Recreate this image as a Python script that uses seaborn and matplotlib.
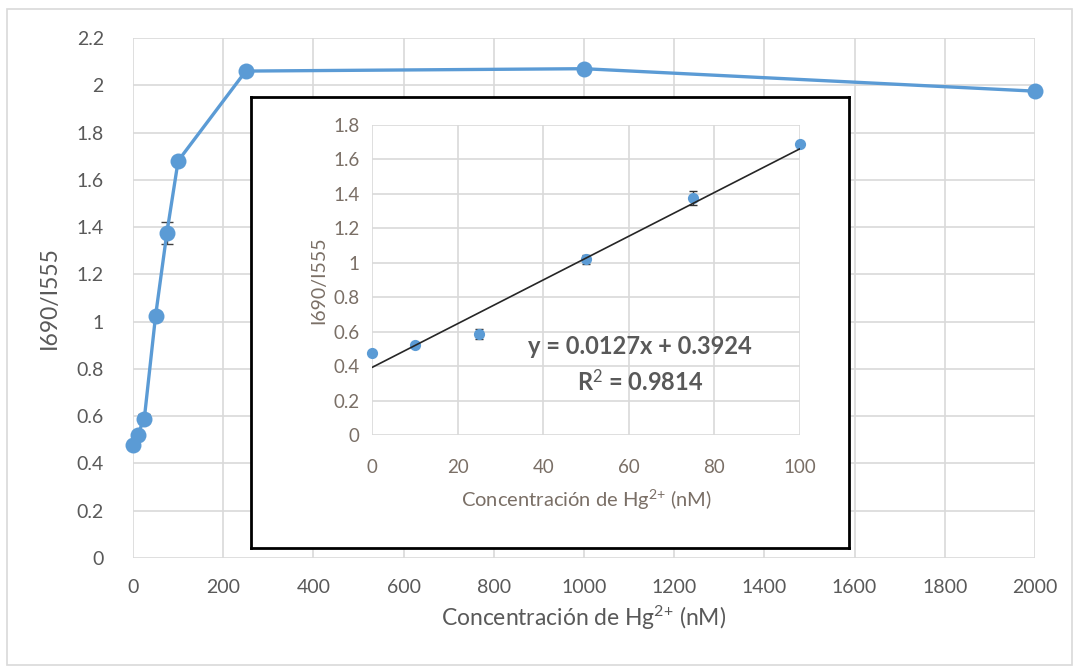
import matplotlib
matplotlib.use("Agg")
import matplotlib.pyplot as plt
import seaborn as sns
import pandas as pd
from matplotlib.patches import Rectangle

# datos de la curva completa
conc_main = [0, 10, 25, 50, 75, 100, 250, 1000, 2000]
ratio_main = [0.48, 0.52, 0.59, 1.025, 1.375, 1.68, 2.06, 2.07, 1.975]
err_main = [0.0, 0.0, 0.02, 0.015, 0.045, 0.0, 0.0, 0.012, 0.0]

# datos del recuadro (zona lineal)
conc_ins = [0, 10, 25, 50, 75, 100]
ratio_ins = [0.475, 0.52, 0.585, 1.02, 1.375, 1.69]
err_ins = [0.0, 0.0, 0.03, 0.025, 0.04, 0.0]

slope = 0.0127
intercept = 0.3924
r2 = 0.9814

main_ticks_x = [0, 200, 400, 600, 800, 1000, 1200, 1400, 1600, 1800, 2000]
main_ticks_y = [0, 0.2, 0.4, 0.6, 0.8, 1, 1.2, 1.4, 1.6, 1.8, 2, 2.2]
ins_ticks_x = [0, 20, 40, 60, 80, 100]
ins_ticks_y = [0, 0.2, 0.4, 0.6, 0.8, 1, 1.2, 1.4, 1.6, 1.8]

BLUE = "#5B9BD5"
GRID = "#D9D9D9"
TXT = "#595959"
INS_TXT = "#7a6f66"
XLABEL = "Concentración de Hg$^{2{+}}$ (nM)"

sns.set_style("white")
plt.rcParams["font.family"] = ["Lato", "DejaVu Sans"]
plt.rcParams["mathtext.fontset"] = "custom"
plt.rcParams["mathtext.rm"] = "Lato"
plt.rcParams["mathtext.it"] = "Lato:italic"
plt.rcParams["mathtext.bf"] = "Lato:bold"


def fmt(v):
    return ("%g" % v)


fig = plt.figure(figsize=(10.79, 6.71), dpi=100)
fig.patches.append(Rectangle((0.0065, 0.009), 0.987, 0.977, transform=fig.transFigure,
                             fill=False, edgecolor=GRID, linewidth=1.2))

# --- gráfico principal ---
ax = fig.add_axes([0.1233, 0.1684, 0.8359, 0.775])
df_main = pd.DataFrame({"conc": conc_main, "ratio": ratio_main})
sns.lineplot(data=df_main, x="conc", y="ratio", ax=ax, color=BLUE, linewidth=2.4,
             marker="o", markersize=11.5, markeredgewidth=0, zorder=3, clip_on=False)
ax.errorbar(conc_main, ratio_main, yerr=err_main, fmt="none", ecolor="#404040",
            elinewidth=1, capsize=4, capthick=1, zorder=2)
ax.set_xlim(0, 2000)
ax.set_ylim(0, 2.2)
ax.set_xticks(main_ticks_x)
ax.set_yticks(main_ticks_y)
ax.set_xticklabels([fmt(v) for v in main_ticks_x])
ax.set_yticklabels([fmt(v) for v in main_ticks_y])
ax.grid(True, color=GRID, linewidth=1.2)
for s in ax.spines.values():
    s.set_visible(False)
ax.tick_params(axis="both", length=0, labelsize=14, colors=TXT)
ax.tick_params(axis="x", pad=15)
ax.tick_params(axis="y", pad=21)
ax.set_xlabel(XLABEL, fontsize=16.5, color=TXT, labelpad=6)
ax.set_ylabel("I690/I555", fontsize=16.5, color=TXT, labelpad=12)

# --- recuadro ---
box = fig.add_axes([0.2326, 0.1833, 0.5542, 0.6721])
box.set_xticks([])
box.set_yticks([])
box.set_facecolor("white")
for s in box.spines.values():
    s.set_color("black")
    s.set_linewidth(2)
box.set_zorder(5)

ins = fig.add_axes([0.3448, 0.3517, 0.3967, 0.462])
ins.set_zorder(6)
ins.patch.set_alpha(0)
df_ins = pd.DataFrame({"conc": conc_ins, "ratio": ratio_ins})
sns.scatterplot(data=df_ins, x="conc", y="ratio", ax=ins, color=BLUE, s=65,
                linewidth=0, zorder=3, clip_on=False)
ins.errorbar(conc_ins, ratio_ins, yerr=err_ins, fmt="none", ecolor="#333333",
             elinewidth=1, capsize=3, capthick=1, zorder=2)
fit = pd.DataFrame({"conc": [0, 100], "ratio": [intercept, slope * 100 + intercept]})
sns.lineplot(data=fit, x="conc", y="ratio", ax=ins, color="#262626", linewidth=1.2, zorder=4)
ins.set_xlim(0, 100)
ins.set_ylim(0, 1.8)
ins.set_xticks(ins_ticks_x)
ins.set_yticks(ins_ticks_y)
ins.set_xticklabels([fmt(v) for v in ins_ticks_x])
ins.set_yticklabels([fmt(v) for v in ins_ticks_y])
ins.grid(True, color=GRID, linewidth=1.2)
for s in ins.spines.values():
    s.set_visible(False)
ins.tick_params(axis="both", length=0, labelsize=13.5, colors=INS_TXT)
ins.tick_params(axis="x", pad=17)
ins.tick_params(axis="y", pad=9)
ins.set_xlabel(XLABEL, fontsize=14.5, color=INS_TXT, labelpad=9)
ins.set_ylabel("I690/I555", fontsize=14, color=INS_TXT, labelpad=4)
ins.text(0.626, 0.284, "y = %.4fx + %.4f" % (slope, intercept), transform=ins.transAxes,
         ha="center", va="center", fontsize=17, fontweight="bold", color=TXT)
ins.text(0.626, 0.172, "R$^{2}$ = %.4f" % r2, transform=ins.transAxes,
         ha="center", va="center", fontsize=17, fontweight="bold", color=TXT)

fig.savefig("out.png", dpi=100)
plt.close(fig)
